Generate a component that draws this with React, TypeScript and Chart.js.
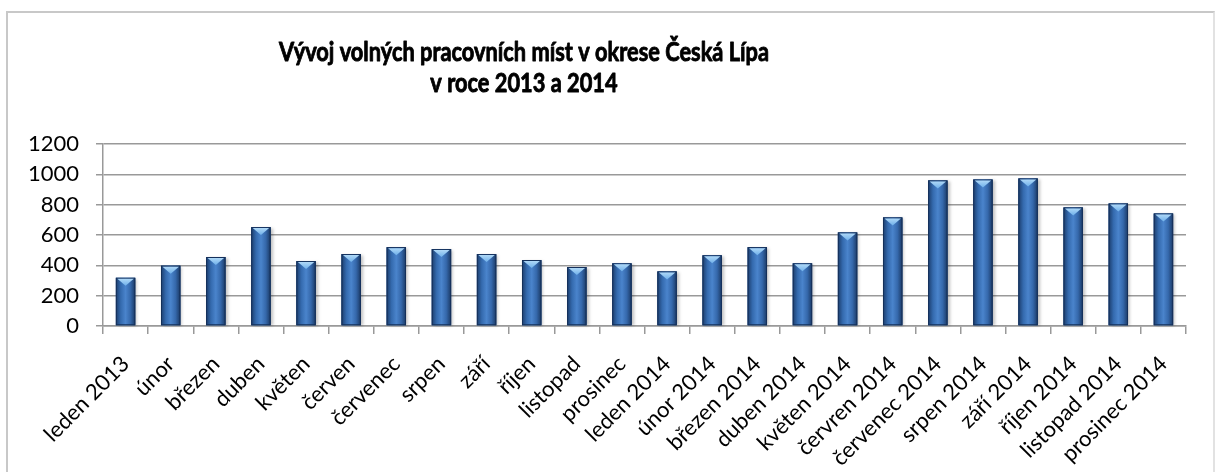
import React, { useEffect, useRef } from 'react';
import { Chart, registerables } from 'chart.js';

Chart.register(...registerables);

const titleLines = ['Vývoj volných pracovních míst v okrese Česká Lípa', 'v roce 2013 a 2014'];

const categories = [
  'leden 2013', 'únor', 'březen', 'duben', 'květen', 'červen', 'červenec', 'srpen', 'září', 'říjen',
  'listopad', 'prosinec', 'leden 2014', 'únor 2014', 'březen 2014', 'duben 2014', 'květen 2014',
  'červren 2014', 'červenec 2014', 'srpen 2014', 'září 2014', 'říjen 2014', 'listopad 2014', 'prosinec 2014',
];

const vacancies = [
  318, 398, 455, 652, 428, 474, 520, 507, 474, 435, 389, 413,
  360, 466, 520, 413, 617, 716, 960, 966, 973, 782, 808, 742,
];

const yTickValues = [0, 200, 400, 600, 800, 1000, 1200];

const FONT = 'Lato, "Open Sans", sans-serif';

const barStylePlugin = {
  id: 'barStyle',
  afterDatasetsDraw(chart: any) {
    const ctx = chart.ctx;
    const meta = chart.getDatasetMeta(0);
    meta.data.forEach((bar: any) => {
      const w = bar.width;
      const left = bar.x - w / 2;
      const right = bar.x + w / 2;
      const top = bar.y;
      const bottom = bar.base;
      ctx.save();
      ctx.shadowColor = 'rgba(0,0,0,0.25)';
      ctx.shadowOffsetX = 2;
      ctx.shadowOffsetY = 1;
      ctx.shadowBlur = 3;
      const g = ctx.createLinearGradient(left, 0, right, 0);
      g.addColorStop(0, '#1b3c6b');
      g.addColorStop(0.25, '#346aae');
      g.addColorStop(0.5, '#4a84cc');
      g.addColorStop(0.75, '#3568ab');
      g.addColorStop(1, '#1a3863');
      ctx.fillStyle = g;
      ctx.fillRect(left, top, w, bottom - top);
      ctx.restore();
      ctx.save();
      ctx.strokeStyle = '#15305a';
      ctx.lineWidth = 1;
      ctx.strokeRect(left + 0.5, top + 0.5, w - 1, bottom - top - 1);
      const tg = ctx.createLinearGradient(0, top, 0, top + 8);
      tg.addColorStop(0, '#b8def9');
      tg.addColorStop(1, '#6fb0ea');
      ctx.fillStyle = tg;
      ctx.beginPath();
      ctx.moveTo(left + 1.5, top + 1);
      ctx.lineTo(right - 1.5, top + 1);
      ctx.lineTo(bar.x, top + 8);
      ctx.closePath();
      ctx.fill();
      ctx.restore();
    });
  },
};

const titlePlugin = {
  id: 'customTitle',
  afterDraw(chart: any) {
    const ctx = chart.ctx;
    ctx.save();
    ctx.fillStyle = '#000';
    ctx.strokeStyle = '#000';
    ctx.lineWidth = 0.9;
    ctx.lineJoin = 'round';
    ctx.font = `bold 27px ${FONT}`;
    ctx.textAlign = 'center';
    ctx.textBaseline = 'alphabetic';
    const w0 = ctx.measureText(titleLines[0]).width;
    const sx = 490 / w0;
    const baselines = [61, 92];
    titleLines.forEach((line, i) => {
      ctx.save();
      ctx.translate(524, baselines[i]);
      ctx.scale(sx, 1);
      ctx.fillText(line, 0, 0);
      ctx.strokeText(line, 0, 0);
      ctx.restore();
    });
    ctx.restore();
  },
};

export default function App() {
  const ref = useRef<HTMLCanvasElement>(null);

  useEffect(() => {
    document.body.style.margin = '0';
    const gridColor = '#999999';
    const chart = new Chart(ref.current!, {
      type: 'bar',
      data: {
        labels: categories,
        datasets: [
          {
            data: vacancies,
            backgroundColor: '#3a6fb0',
            borderWidth: 0,
            categoryPercentage: 1,
            barPercentage: 0.43,
          },
        ],
      },
      plugins: [barStylePlugin, titlePlugin],
      options: {
        responsive: false,
        animation: false,
        devicePixelRatio: 1,
        layout: { padding: { top: 144, right: 29, left: 0, bottom: 0 } },
        plugins: {
          legend: { display: false },
          title: { display: false },
          tooltip: { enabled: false },
        },
        scales: {
          x: {
            afterFit: (s: any) => { s.height = 146; },
            grid: {
              display: true,
              offset: true,
              drawOnChartArea: false,
              drawTicks: true,
              tickLength: 8,
              color: gridColor,
              lineWidth: 1.5,
            },
            border: { display: true, color: gridColor, width: 1.5 },
            ticks: {
              autoSkip: false,
              maxRotation: 45,
              minRotation: 45,
              padding: 17,
              color: '#000',
              font: { family: FONT, size: 22 },
            },
          },
          y: {
            min: yTickValues[0],
            max: yTickValues[yTickValues.length - 1],
            afterFit: (s: any) => { s.width = 103; },
            afterBuildTicks: (s: any) => { s.ticks = yTickValues.map((v) => ({ value: v })); },
            grid: {
              display: true,
              drawTicks: true,
              tickLength: 7,
              color: gridColor,
              lineWidth: 1.5,
            },
            border: { display: true, color: gridColor, width: 1.5 },
            ticks: {
              padding: 17,
              color: '#000',
              font: { family: FONT, size: 22 },
              callback: (v: any) => String(v),
            },
          },
        },
      },
    });
    return () => chart.destroy();
  }, []);

  return (
    <div style={{ position: 'relative', width: 1215, height: 472, overflow: 'hidden', background: '#fff' }}>
      <div
        style={{
          position: 'absolute',
          left: 6,
          top: 11,
          width: 1209,
          height: 520,
          boxSizing: 'border-box',
          border: '2px solid #c8c8c8',
          borderRightColor: '#e2e2e2',
        }}
      />
      <canvas ref={ref} width={1215} height={472} style={{ position: 'absolute', left: 0, top: 0, display: 'block' }} />
    </div>
  );
}
